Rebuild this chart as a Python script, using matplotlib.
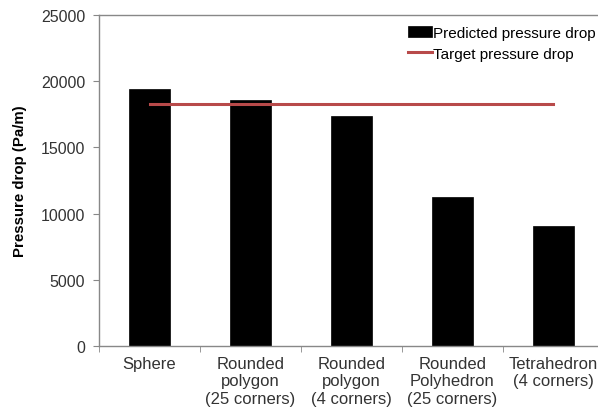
import matplotlib.pyplot as plt
import numpy as np

# data
shapes = ['Sphere', 'Rounded\npolygon\n(25 corners)', 'Rounded\npolygon\n(4 corners)',
          'Rounded\nPolyhedron\n(25 corners)', 'Tetrahedron\n(4 corners)']
predicted = [19400, 18600, 17350, 11250, 9100]
target = [18250, 18250, 18250, 18250, 18250]

plt.rcParams['font.family'] = ['Liberation Sans', 'DejaVu Sans']

fig = plt.figure(figsize=(5.98, 4.14), dpi=100)
ax = fig.add_axes([0.1656, 0.1618, 0.8444, 0.7996])

x = np.arange(len(shapes))
bars = ax.bar(x, predicted, width=0.4, color='black', edgecolor='black', linewidth=0.5, zorder=2)
line, = ax.plot(x, target, color='#b84a4a', linewidth=2.2, zorder=3)

ax.set_xlim(-0.5, 4.5)
ax.set_ylim(0, 25000)
ax.set_yticks(np.arange(0, 25001, 5000))
ax.set_xticks(x)
ax.set_xticklabels(shapes, fontsize=12, color='#333333', linespacing=1.2)
ax.set_xticks(np.arange(-0.5, 5, 1), minor=True)
ax.tick_params(axis='x', which='major', length=0, pad=7)
ax.tick_params(axis='x', which='minor', length=4, color='#888888', direction='out')
ax.tick_params(axis='y', length=4, color='#888888', labelsize=11.5, labelcolor='#333333', pad=6)

for s in ['left', 'bottom', 'top', 'right']:
    ax.spines[s].set_color('#888888')
    ax.spines[s].set_linewidth(1.0)

ax.set_ylabel('Pressure drop (Pa/m)', fontsize=10.8, fontweight='bold', labelpad=10)

fig.legend([bars, line], ['Predicted pressure drop', 'Target pressure drop'],
           loc='upper left', bbox_to_anchor=(0.672, 0.95), frameon=False, fontsize=11,
           handlelength=1.55, handletextpad=0.1, labelspacing=0.45, borderaxespad=0)

fig.savefig('out.png', dpi=100)
